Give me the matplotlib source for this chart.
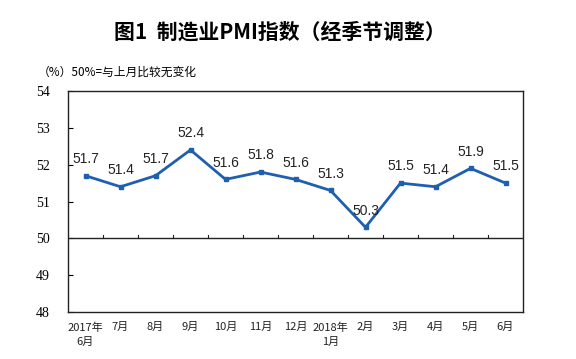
import matplotlib
matplotlib.use("Agg")
import matplotlib.pyplot as plt

plt.rcParams['font.family'] = ['Noto Sans CJK SC', 'DejaVu Sans']

months = ["2017年\n6月", "7月", "8月", "9月", "10月", "11月", "12月", "2018年\n1月",
          "2月", "3月", "4月", "5月", "6月"]
pmi = [51.7, 51.4, 51.7, 52.4, 51.6, 51.8, 51.6, 51.3, 50.3, 51.5, 51.4, 51.9, 51.5]
yticks = [48, 49, 50, 51, 52, 53, 54]

color = "#1f5fb0"
fig = plt.figure(figsize=(5.76, 3.59), dpi=100)
ax = fig.add_axes([68/576, 1-312/359, (523-68)/576, (312-91)/359])

x = list(range(len(pmi)))
ax.plot(x, pmi, color=color, lw=2, marker='s', ms=3.5, mfc=color, mec=color)
for xi, v in zip(x, pmi):
    ax.annotate(f"{v}", (xi, v), xytext=(0, 7), textcoords='offset points',
                ha='center', va='bottom', fontsize=10, family='Liberation Sans', color='#222222')

ax.set_xlim(-0.5, len(pmi)-0.5)
ax.set_ylim(48, 54)
ax.set_yticks(yticks)
ax.set_yticklabels([str(t) for t in yticks], family='Liberation Serif', fontsize=10)
ax.tick_params(axis='y', direction='in', length=3.5, width=0.8, pad=13)
ax.set_xticks([])
for s in ax.spines.values():
    s.set_linewidth(1.0)
    s.set_color('#222222')
ax.axhline(50, color='#222222', lw=1.0)
for b in range(1, len(pmi)):
    ax.plot([b-0.5, b-0.5], [50, 50.09], color='#222222', lw=0.8)

for xi, lab in zip(x, months):
    ax.text(xi, 47.72, lab, ha='center', va='top', fontsize=8, color='#222222', linespacing=1.5)

fig.text(280/576, 1-32/359, "图1  制造业PMI指数（经季节调整）", ha='center', va='center',
         fontsize=15, fontweight='bold')
fig.text(38/576, 1-72/359, "（%）50%=与上月比较无变化", ha='left', va='center', fontsize=8.5)

fig.savefig("out.png", dpi=100)
